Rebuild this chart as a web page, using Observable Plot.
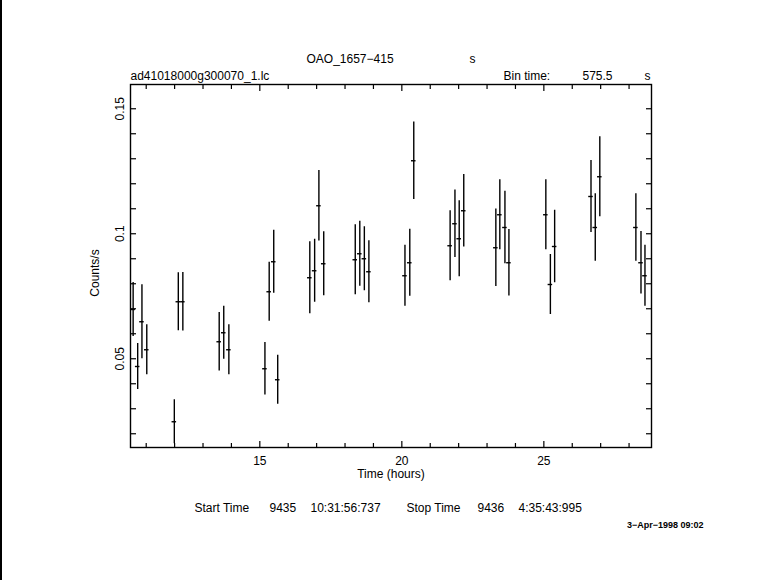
<!DOCTYPE html>
<html><head><meta charset="utf-8">
<script src="https://cdn.jsdelivr.net/npm/d3@7"></script>
<script src="https://cdn.jsdelivr.net/npm/@observablehq/plot@0.6"></script>
<style>
html,body{margin:0;padding:0;background:#fff;}
#edge{position:absolute;left:0;top:0;width:2px;height:580px;background:#000;}
</style></head><body><div id="edge"></div><div id="chart"></div>
<script>
// Light curve: bin centre time (hours), count rate (counts/s), 1-sigma error
const timeHours = [10.54, 10.70, 10.85, 11.02, 11.99, 12.13, 12.29, 13.57, 13.73, 13.91, 15.18, 15.33, 15.49, 15.63, 16.76, 16.93, 17.08, 17.25, 18.36, 18.52, 18.68, 18.84, 20.11, 20.28, 20.42, 21.70, 21.87, 22.02, 22.18, 23.31, 23.45, 23.63, 23.77, 25.07, 25.23, 25.38, 26.66, 26.81, 26.97, 28.24, 28.42, 28.56];
const countRate = [0.0697, 0.0469, 0.0648, 0.0536, 0.0248, 0.0728, 0.0728, 0.0568, 0.0604, 0.0536, 0.0460, 0.0768, 0.0888, 0.0416, 0.0824, 0.0852, 0.1112, 0.0880, 0.0896, 0.0920, 0.0900, 0.0848, 0.0832, 0.0884, 0.1292, 0.0952, 0.1040, 0.0980, 0.1092, 0.0944, 0.1076, 0.1025, 0.0884, 0.1076, 0.0797, 0.0949, 0.1149, 0.1025, 0.1228, 0.1025, 0.0884, 0.0832];
const rateError = [0.0108, 0.0092, 0.0148, 0.0100, 0.0088, 0.0116, 0.0117, 0.0117, 0.0106, 0.0100, 0.0105, 0.0118, 0.0126, 0.0098, 0.0144, 0.0126, 0.0141, 0.0128, 0.0140, 0.0130, 0.0128, 0.0124, 0.0122, 0.0134, 0.0155, 0.0140, 0.0135, 0.0152, 0.0145, 0.0155, 0.0140, 0.0145, 0.0133, 0.0140, 0.0120, 0.0145, 0.0144, 0.0135, 0.0160, 0.0135, 0.0125, 0.0122];
const binTimeSec = 575.5;

const xMajorTicks = [15, 20, 25];
const xMajorLabels = ["15", "20", "25"];
const xMinorTicks = [11, 12, 13, 14, 16, 17, 18, 19, 21, 22, 23, 24, 26, 27, 28];
const yMajorTicks = [0.05, 0.1, 0.15];
const yMajorLabels = ["0.05", "0.1", "0.15"];
const yMinorTicks = [0.02, 0.03, 0.04, 0.06, 0.07, 0.08, 0.09, 0.11, 0.12, 0.13, 0.14];

const titleText = "OAO_1657\u2212415";
const titleUnit = "s";
const fileText = "ad41018000g300070_1.lc";
const binLabel = "Bin time:";
const binValue = "575.5";
const binUnit = "s";
const xLabel = "Time (hours)";
const yLabel = "Counts/s";
const footerParts = ["Start Time", "9435", "10:31:56:737", "Stop Time", "9436", "4:35:43:995"];
const dateText = "3\u2212Apr\u22121998 09:02";

// layout: left offset (px from frame left) of each footer part
const footerOffsets = [64, 139, 180, 276, 347, 388];

const halfBin = binTimeSec / 3600 / 2;
const rows = timeHours.map((t, i) => ({t, rate: countRate[i], err: rateError[i]}));

const font = "Liberation Sans, Arial, sans-serif";
const W = 781, H = 580;
const chart = Plot.plot({
  width: W, height: H,
  marginLeft: 130, marginRight: 130, marginTop: 84, marginBottom: 133,
  style: {fontFamily: font, fontSize: "12px", color: "#000", background: "#fff"},
  x: {domain: [10.447, 28.79]},
  y: {domain: [0.0145, 0.1597]},
  marks: [
    Plot.ruleX(rows, {x: "t", y1: d => d.rate - d.err, y2: d => d.rate + d.err, stroke: "#000", strokeWidth: 1.4, clip: true}),
    Plot.ruleY(rows, {y: "rate", x1: d => d.t - halfBin, x2: d => d.t + halfBin, stroke: "#000", strokeWidth: 1.4, clip: true}),
    Plot.frame({stroke: "#000", strokeWidth: 1.4}),
    // inward ticks on all four sides
    Plot.axisX(xMinorTicks, {anchor: "bottom", tickSize: -4, text: null, label: null, strokeWidth: 1.2}),
    Plot.axisX(xMajorTicks, {anchor: "bottom", tickSize: -6, text: null, label: null, strokeWidth: 1.2}),
    Plot.axisX(xMinorTicks, {anchor: "top", tickSize: -4, text: null, label: null, strokeWidth: 1.2}),
    Plot.axisX(xMajorTicks, {anchor: "top", tickSize: -6, text: null, label: null, strokeWidth: 1.2}),
    Plot.axisY(yMinorTicks, {anchor: "left", tickSize: -6, text: null, label: null, strokeWidth: 1.2}),
    Plot.axisY(yMajorTicks, {anchor: "left", tickSize: -6, text: null, label: null, strokeWidth: 1.2}),
    Plot.axisY(yMinorTicks, {anchor: "right", tickSize: -6, text: null, label: null, strokeWidth: 1.2}),
    Plot.axisY(yMajorTicks, {anchor: "right", tickSize: -6, text: null, label: null, strokeWidth: 1.2}),
    // tick labels
    Plot.text(xMajorTicks, {x: d => d, text: (d, i) => xMajorLabels[i], frameAnchor: "bottom", dy: 14, lineAnchor: "middle", fontSize: 12}),
    Plot.text(yMajorTicks, {y: d => d, text: (d, i) => yMajorLabels[i], frameAnchor: "left", dx: -10, rotate: -90, textAnchor: "middle", lineAnchor: "middle", fontSize: 12}),
    // axis titles
    Plot.text([xLabel], {text: d => d, frameAnchor: "bottom", dy: 27, lineAnchor: "middle", fontSize: 12}),
    Plot.text([yLabel], {text: d => d, frameAnchor: "left", dx: -35, dy: 7, rotate: -90, textAnchor: "middle", lineAnchor: "middle", fontSize: 12}),
    // header texts
    Plot.text([titleText], {text: d => d, frameAnchor: "top-left", dx: 176, dy: -25, textAnchor: "start", lineAnchor: "middle", fontSize: 12}),
    Plot.text([titleUnit], {text: d => d, frameAnchor: "top-left", dx: 339, dy: -25, textAnchor: "start", lineAnchor: "middle", fontSize: 12}),
    Plot.text([fileText], {text: d => d, frameAnchor: "top-left", dx: 0, dy: -8, textAnchor: "start", lineAnchor: "middle", fontSize: 12}),
    Plot.text([binLabel], {text: d => d, frameAnchor: "top-left", dx: 373, dy: -8, textAnchor: "start", lineAnchor: "middle", fontSize: 12}),
    Plot.text([binValue], {text: d => d, frameAnchor: "top-left", dx: 452, dy: -8, textAnchor: "start", lineAnchor: "middle", fontSize: 12}),
    Plot.text([binUnit], {text: d => d, frameAnchor: "top-left", dx: 514, dy: -8, textAnchor: "start", lineAnchor: "middle", fontSize: 12}),
    // footer texts
    ...footerParts.map((p, i) => Plot.text([p], {text: d => d, frameAnchor: "bottom-left", dx: footerOffsets[i], dy: 61, textAnchor: "start", lineAnchor: "middle", fontSize: 12})),
    Plot.text([dateText], {text: d => d, frameAnchor: "bottom-right", dx: 52, dy: 78, textAnchor: "end", lineAnchor: "middle", fontSize: 9, fontWeight: "bold"})
  ]
});
document.getElementById("chart").appendChild(chart);
</script>
</body></html>
